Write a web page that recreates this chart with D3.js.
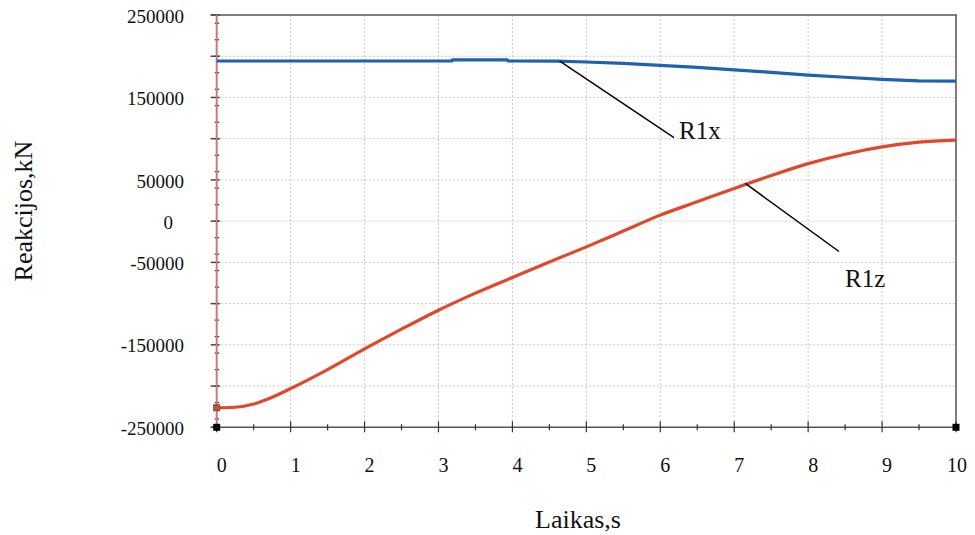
<!DOCTYPE html>
<html><head><meta charset="utf-8">
<script src="https://cdn.jsdelivr.net/npm/d3@7"></script>
<style>body{margin:0;background:#fff}svg{display:block}text{font-family:"Liberation Serif","Times New Roman",serif;fill:#111}</style>
</head><body><svg id="c" width="975" height="535"></svg>
<script>
const xTicks = [0,1,2,3,4,5,6,7,8,9,10];
const yTickLabels = [250000,150000,50000,0,-50000,-150000,-250000];
const yGrid = [250000,200000,150000,100000,50000,0,-50000,-100000,-150000,-200000,-250000];
const tR1x = [0,1,2,3,3.18,3.19,3.93,3.94,4.6,5,5.5,6,6.5,7,7.5,8,8.5,9,9.5,10];
const r1x  = [194200,194200,194200,194200,194200,195700,195700,194200,194000,193000,191300,189000,186500,183500,180500,177200,174500,172000,170200,169800];
const tR1z = [0,0.25,0.5,0.75,1,1.5,2,2.5,3,3.5,4,4.5,5,5.5,6,6.5,7,7.5,8,8.5,9,9.5,10];
const r1z  = [-226300,-225700,-221800,-213500,-203000,-180000,-155000,-131000,-108000,-87300,-68300,-49500,-31200,-12000,7300,23500,39700,55300,69800,81200,90000,95800,98300];
const seriesNames = ["R1x","R1z"];
const xTitle = "Laikas,s", yTitle = "Reakcijos,kN";

const svg = d3.select("#c");
const x = d3.scaleLinear().domain([0,10]).range([216.7,956]);
const y = d3.scaleLinear().domain([-250000,250000]).range([427.3,15]);

// grid
svg.append("g").selectAll("line").data(xTicks.slice(1,-1)).join("line")
  .attr("x1",d=>x(d)).attr("x2",d=>x(d)).attr("y1",y(250000)).attr("y2",y(-250000))
  .attr("stroke","#c8c8c8").attr("stroke-width",1).attr("stroke-dasharray","2,2");
svg.append("g").selectAll("line").data(yGrid.slice(1,-1)).join("line")
  .attr("x1",x(0)).attr("x2",x(10)).attr("y1",d=>y(d)).attr("y2",d=>y(d))
  .attr("stroke","#c8c8c8").attr("stroke-width",1).attr("stroke-dasharray","2,2");

// frame
const fr = svg.append("g").attr("stroke","#555").attr("stroke-width",1.5);
fr.append("line").attr("x1",x(0)-6).attr("x2",x(10)+1).attr("y1",y(250000)).attr("y2",y(250000));
fr.append("line").attr("x1",x(0)-6).attr("x2",x(10)+1).attr("y1",y(-250000)).attr("y2",y(-250000));
fr.append("line").attr("x1",x(10)).attr("x2",x(10)).attr("y1",y(250000)).attr("y2",y(-250000));

// y major ticks
svg.append("g").selectAll("line").data(yGrid).join("line")
  .attr("x1",x(0)-6).attr("x2",x(0)+3).attr("y1",d=>y(d)).attr("y2",d=>y(d))
  .attr("stroke","#444").attr("stroke-width",1.5);
// y minor ticks
svg.append("g").selectAll("line").data(d3.range(-240000,250000,20000)).join("line")
  .attr("x1",x(0)-2).attr("x2",x(0)+2.5).attr("y1",d=>y(d)).attr("y2",d=>y(d))
  .attr("stroke","#333").attr("stroke-width",1.2);
// x ticks
svg.append("g").selectAll("line").data(xTicks).join("line")
  .attr("x1",d=>x(d)).attr("x2",d=>x(d)).attr("y1",y(-250000)-6).attr("y2",y(-250000)+5)
  .attr("stroke","#333").attr("stroke-width",1.2);
svg.append("g").selectAll("line").data(d3.range(0.5,10,1)).join("line")
  .attr("x1",d=>x(d)).attr("x2",d=>x(d)).attr("y1",y(-250000)-3).attr("y2",y(-250000)+3)
  .attr("stroke","#333").attr("stroke-width",1.2);

// y axis (red)
svg.append("line").attr("x1",x(0)).attr("x2",x(0)).attr("y1",y(250000)).attr("y2",y(-250000)+1)
  .attr("stroke","#c97a7a").attr("stroke-width",2);

// lines
const line = d3.line().x(d=>x(d[0])).y(d=>y(d[1]));
svg.append("path").datum(tR1x.map((t,i)=>[t,r1x[i]])).attr("d",line)
  .attr("fill","none").attr("stroke","#1f62b0").attr("stroke-width",3.2);
svg.append("path").datum(tR1z.map((t,i)=>[t,r1z[i]])).attr("d",line.curve(d3.curveMonotoneX))
  .attr("fill","none").attr("stroke","#e0482c").attr("stroke-width",3.2);

// markers
svg.append("rect").attr("x",x(0)-3).attr("y",y(r1z[0])-3).attr("width",6).attr("height",6)
  .attr("fill","#e0482c").attr("stroke","#555").attr("stroke-width",1);
svg.append("g").selectAll("rect").data([0,10]).join("rect")
  .attr("x",d=>x(d)-3.5).attr("y",y(-250000)-3.5).attr("width",7).attr("height",7).attr("fill","#000");

// tick labels
svg.append("g").selectAll("text").data(yTickLabels).join("text")
  .attr("x",d=>d===0?173:184).attr("y",d=>y(d)+1).attr("dy","0.35em")
  .attr("text-anchor","end").attr("font-size",19).text(d=>d);
svg.append("g").selectAll("text").data(xTicks).join("text")
  .attr("x",d=>x(d)+(d===10?1:5)).attr("y",465).attr("dy","0.35em")
  .attr("text-anchor","middle").attr("font-size",20).text(d=>d);

// annotations
svg.append("line").attr("x1",x(4.64)).attr("y1",y(r1x[8])).attr("x2",674).attr("y2",137.7)
  .attr("stroke","#000").attr("stroke-width",1.5);
svg.append("text").attr("x",679).attr("y",139).attr("font-size",25).text(seriesNames[0]);
svg.append("line").attr("x1",x(7.15)).attr("y1",y(45700)).attr("x2",839).attr("y2",251.5)
  .attr("stroke","#000").attr("stroke-width",1.5);
svg.append("text").attr("x",845).attr("y",287).attr("font-size",25).text(seriesNames[1]);

// axis titles
svg.append("text").attr("x",578).attr("y",528).attr("text-anchor","middle").attr("font-size",26).text(xTitle);
svg.append("text").attr("transform","translate(32,211) rotate(-90)").attr("text-anchor","middle").attr("font-size",26).text(yTitle);
</script></body></html>
